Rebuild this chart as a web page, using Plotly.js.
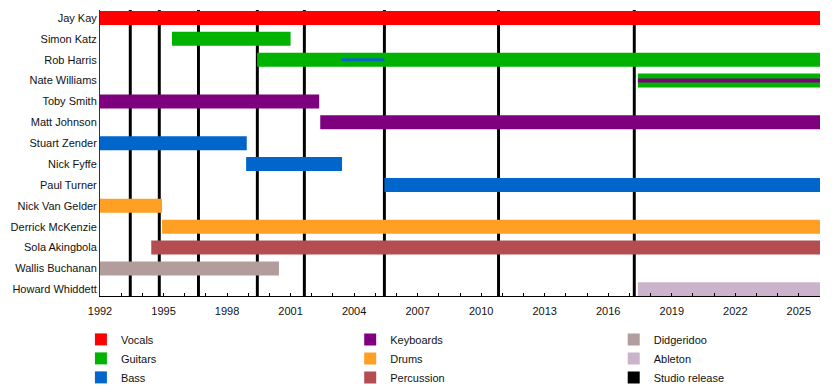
<!DOCTYPE html>
<html>
<head>
<meta charset="utf-8">
<script src="https://cdn.plot.ly/plotly-3.0.1.min.js"></script>
<style>html,body{margin:0;padding:0;background:#fff;}#chart{width:840px;height:386px;}</style>
</head>
<body>
<div id="chart"></div>
<script>
// ---- data ----
const members = ['Jay Kay','Simon Katz','Rob Harris','Nate Williams','Toby Smith','Matt Johnson',
  'Stuart Zender','Nick Fyffe','Paul Turner','Nick Van Gelder','Derrick McKenzie','Sola Akingbola',
  'Wallis Buchanan','Howard Whiddett'];
const endYear = 2026;
const vocals = [['Jay Kay', 1992, 2026]];
const guitars = [['Simon Katz', 1995.4, 2001.0], ['Rob Harris', 1999.42, 2026], ['Nate Williams', 2017.4, 2026]];
const bass = [['Stuart Zender', 1992, 1998.93], ['Nick Fyffe', 1998.9, 2003.43], ['Paul Turner', 2005.43, 2026]];
const bassSecondary = [['Rob Harris', 2003.4, 2005.43]];
const keyboards = [['Toby Smith', 1992, 2002.35], ['Matt Johnson', 2002.4, 2026]];
const keyboardsSecondary = [['Nate Williams', 2017.4, 2026]];
const drums = [['Nick Van Gelder', 1992, 1994.93], ['Derrick McKenzie', 1994.93, 2026]];
const percussion = [['Sola Akingbola', 1994.42, 2026]];
const didgeridoo = [['Wallis Buchanan', 1992, 2000.45]];
const ableton = [['Howard Whiddett', 2017.4, 2026]];
const studioReleases = [1993.43, 1994.8, 1996.65, 1999.43, 2001.65, 2005.43, 2010.82, 2017.23];
const xTicks = [1992, 1995, 1998, 2001, 2004, 2007, 2010, 2013, 2016, 2019, 2022, 2025];

// ---- styling ----
const FONT = 'Liberation Sans, Arial, sans-serif';
const BAR_W = 0.67, THIN_BASS = 0.14, THIN_KEYS = 0.19, LINE_W = 0.14;
const yRange = [13.32, -0.38];

function roleTrace(name, color, legend, primary, secondary, thinW) {
  const all = primary.concat(secondary || []);
  const widths = primary.map(() => BAR_W).concat((secondary || []).map(() => thinW));
  return {
    type: 'bar', orientation: 'h', name: name, legend: legend,
    y: all.map(p => members.indexOf(p[0])),
    base: all.map(p => p[1]),
    x: all.map(p => p[2] - p[1]),
    width: widths,
    marker: {color: color, line: {width: 0}},
    hoverinfo: 'name'
  };
}

const yMid = (yRange[0] + yRange[1]) / 2;
const ySpan = Math.abs(yRange[0] - yRange[1]);
const releaseTrace = {
  type: 'bar', orientation: 'h', name: 'Studio release', legend: 'legend3', legendrank: 3,
  y: studioReleases.map(() => yMid),
  base: studioReleases.map(r => r - LINE_W / 2),
  x: studioReleases.map(() => LINE_W),
  width: studioReleases.map(() => ySpan),
  marker: {color: '#000000', line: {width: 0}},
  hoverinfo: 'x'
};

const traces = [
  releaseTrace,
  roleTrace('Vocals', '#FF0000', 'legend', vocals),
  roleTrace('Guitars', '#00B300', 'legend', guitars),
  roleTrace('Bass', '#0066CC', 'legend', bass, bassSecondary, THIN_BASS),
  roleTrace('Keyboards', '#7F007F', 'legend2', keyboards, keyboardsSecondary, THIN_KEYS),
  roleTrace('Drums', '#FFA024', 'legend2', drums),
  roleTrace('Percussion', '#B34D50', 'legend2', percussion),
  roleTrace('Didgeridoo', '#B39C9C', 'legend3', didgeridoo),
  roleTrace('Ableton', '#CCB3CC', 'legend3', ableton)
];
traces[7].legendrank = 1; traces[8].legendrank = 2;

function legendAt(x) {
  return {
    orientation: 'v', x: x, xanchor: 'left', y: -0.101, yanchor: 'top',
    traceorder: 'normal', bgcolor: 'rgba(0,0,0,0)',
    font: {family: FONT, size: 11, color: '#111'}
  };
}

const layout = {
  width: 840, height: 386,
  margin: {l: 100, r: 20, t: 10, b: 90, autoexpand: false},
  paper_bgcolor: '#fff', plot_bgcolor: '#fff',
  barmode: 'overlay',
  font: {family: FONT, size: 11, color: '#111'},
  xaxis: {
    range: [1992, endYear], tickvals: xTicks, ticktext: xTicks.map(String),
    ticks: 'inside', ticklen: 3, tickcolor: '#000', tickwidth: 1, ticklabelstandoff: 5,
    minor: {dtick: 1, tick0: 1992, ticks: 'inside', ticklen: 3, tickcolor: '#000', showgrid: false},
    showline: true, linecolor: '#000', linewidth: 1, showgrid: false, zeroline: false,
    tickfont: {family: FONT, size: 11, color: '#111'}
  },
  yaxis: {
    range: yRange, tickvals: members.map((m, i) => i), ticktext: members,
    ticks: '', showline: true, linecolor: '#333', linewidth: 1, showgrid: false, zeroline: false,
    tickfont: {family: FONT, size: 11, color: '#111'}
  },
  showlegend: true,
  legend: legendAt(-0.0265),
  legend2: legendAt(0.3475),
  legend3: legendAt(0.7135)
};

Plotly.newPlot('chart', traces, layout, {displayModeBar: false, staticPlot: true});
</script>
</body>
</html>
